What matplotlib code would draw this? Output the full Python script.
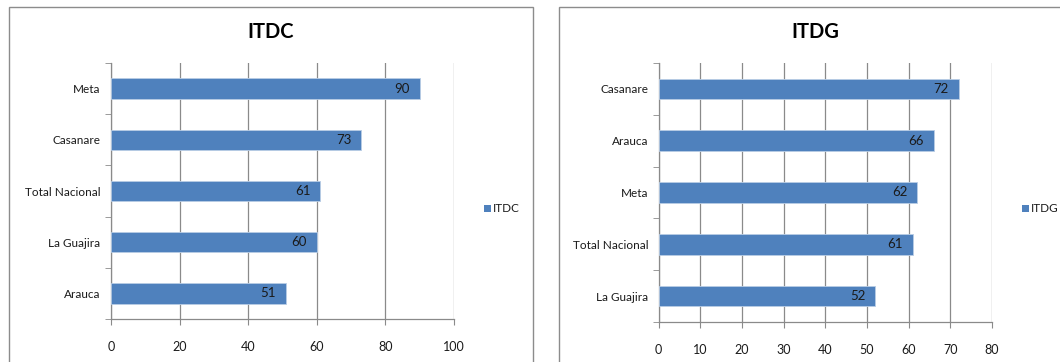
import matplotlib
matplotlib.use("Agg")
import matplotlib.pyplot as plt
from matplotlib.patches import Rectangle

plt.rcParams['font.family'] = ['Lato', 'DejaVu Sans']

# ITDC panel
itdc_categories = ["Arauca", "La Guajira", "Total Nacional", "Casanare", "Meta"]
itdc_values = [51, 60, 61, 73, 90]
itdc_ticks = [0, 20, 40, 60, 80, 100]

# ITDG panel
itdg_categories = ["La Guajira", "Total Nacional", "Meta", "Arauca", "Casanare"]
itdg_values = [52, 61, 62, 66, 72]
itdg_ticks = [0, 10, 20, 30, 40, 50, 60, 70, 80]

BAR = "#4F81BD"
GRID = "#8a8a8a"
TEXT = "#1a1a1a"

W, H = 1060, 362
fig = plt.figure(figsize=(W / 100, H / 100), dpi=100)
fig.patch.set_facecolor("white")


def px_box(x0, y0, x1, y1):
    """Convert a pixel rectangle (top-left origin) into figure fractions."""
    return [x0 / W, (H - y1) / H, (x1 - x0) / W, (y1 - y0) / H]


# chart frames
for x0, x1 in [(9, 533), (559, 1075)]:
    fig.patches.append(Rectangle((x0 / W, -0.1), (x1 - x0) / W, (H - 7) / H + 0.1,
                                 transform=fig.transFigure, fill=False,
                                 edgecolor="#8c8c8c", linewidth=1.0))


def draw_panel(rect, cats, vals, ticks, title, title_x, legend_x):
    ax = fig.add_axes(px_box(*rect))
    y = list(range(len(cats)))
    ax.barh(y, vals, height=0.4, color=BAR, edgecolor="#b9cde5", linewidth=0.6, zorder=3)
    ax.set_xlim(ticks[0], ticks[-1])
    ax.set_ylim(-0.5, len(cats) - 0.5)
    ax.set_xticks(ticks)
    ax.set_xticklabels([str(t) for t in ticks], fontsize=9, color=TEXT)
    ax.set_yticks(y)
    ax.set_yticklabels(cats, fontsize=8.5, color=TEXT)
    ax.set_yticks([i - 0.5 for i in range(len(cats) + 1)], minor=True)
    ax.tick_params(axis="y", which="major", length=0, pad=7.5)
    ax.tick_params(axis="y", which="minor", length=4, color=GRID, direction="out")
    ax.tick_params(axis="x", length=4, color=GRID, direction="out", pad=12)
    ax.grid(axis="x", color=GRID, linewidth=0.9, zorder=0)
    ax.set_axisbelow(True)
    for s in ["top", "right"]:
        ax.spines[s].set_visible(False)
    for s in ["left", "bottom"]:
        ax.spines[s].set_color(GRID)
        ax.spines[s].set_linewidth(0.9)
    for yi, v in zip(y, vals):
        ax.annotate(str(v), xy=(v, yi), xytext=(-7, 0), textcoords="offset points",
                    ha="right", va="center", fontsize=9.5, color=TEXT, zorder=4)
    fig.text(title_x / W, (H - 32) / H, title, ha="center", va="center",
             fontsize=14.5, fontweight="bold", color="black")
    # legend entry
    fig.patches.append(Rectangle(((legend_x) / W, (H - 212) / H), 7 / W, 7 / H,
                                 transform=fig.transFigure, facecolor=BAR,
                                 edgecolor="none"))
    fig.text((legend_x + 9) / W, (H - 208) / H, title, ha="left", va="center",
             fontsize=8.5, color=TEXT)
    return ax


draw_panel((111, 63, 454, 319), itdc_categories, itdc_values, itdc_ticks,
           "ITDC", 271, 484)
draw_panel((658.7, 63, 992, 322), itdg_categories, itdg_values, itdg_ticks,
           "ITDG", 815, 1022)

fig.savefig("out.png", dpi=100, facecolor="white")
